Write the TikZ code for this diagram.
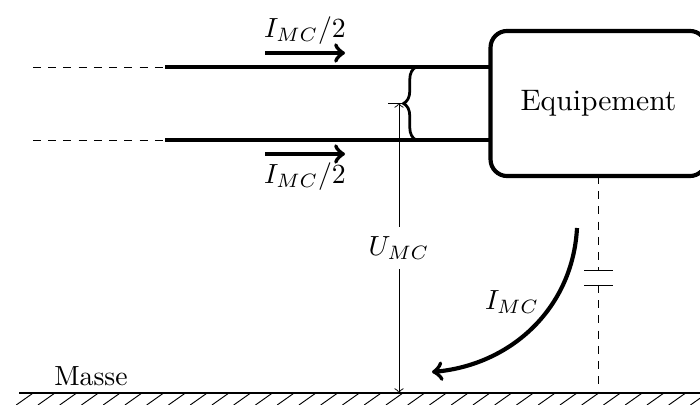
\documentclass[tikz,border=0pt]{standalone}
\usepackage{amsmath}
\usetikzlibrary{arrows}
\usetikzlibrary{positioning}
\usetikzlibrary{decorations.pathreplacing}

\tikzset{
  conductor/.style={line width=1.5pt},
  courant/.style={->,line width=1.5pt},
  liaison/.style={dash pattern=on 2.9pt off 2.6pt,line width=0.3pt},
  mince/.style={line width=0.34pt},
}

\begin{document}
\begin{tikzpicture}[x=0.3612pt,y=-0.3612pt]
    \useasboundingbox (0,0) rectangle (700,405);

    \node (equip) [draw, line width=1.5pt, rounded corners=6pt, inner sep=0pt,
      minimum width=78pt, minimum height=52.4pt,
      font=\fontsize{10.7}{13}\selectfont] at (598.5,103.5) {\raisebox{-.5pt}{Equipement}};

    \coordinate (h1) at (165,67);
    \coordinate (h2) at (165,140);
    \coordinate (h1a) at (33,67);
    \coordinate (h2a) at (33,140);
    \coordinate (h1b) at (490,67);
    \coordinate (h2b) at (490,140);

    \draw [liaison] (h1a) -- (h1);
    \draw [liaison] (h2a) -- (h2);
    \draw [conductor] (h1) -- (h1b);
    \draw [conductor] (h2) -- (h2b);

    \coordinate (c1a) at (265,53);
    \coordinate (c1b) at (345,53);
    \coordinate (c2a) at (265,154);
    \coordinate (c2b) at (345,154);
    \draw [courant] (c1a) -- node [above, yshift=-1pt] {$I_{MC}/2$} (c1b);
    \draw [courant] (c2a) -- node [below, yshift=1pt] {$I_{MC}/2$} (c2b);

    \coordinate (b1) at (416,67);
    \coordinate (b2) at (416,140);
    \draw [line width=1pt, decorate, decoration={brace,amplitude=4.5pt,mirror}] (b1) -- (b2);

    % masse
    \coordinate (m1) at (19,393);
    \coordinate (m2) at (700,393);
    \draw [line width=0.4pt] (m1) -- (m2);
    \foreach \x in {0,...,31}
      \draw [mince] (33.2+21.75*\x,393) -- ++(-17,12);
    \node (masse) at (91,376) {Masse};

    % tension
    \coordinate (u1) at (399,103);
    \coordinate (u2) at (399,393);
    \coordinate (t1) at (388,103);
    \coordinate (t2) at (406,103);
    \draw [mince] (t1) -- (t2);
    \draw [<->,mince] (u1) -- node [fill=white] {$U_{MC}$} (u2);

    % capacite
    \coordinate (k1) at (598,176);
    \coordinate (k2) at (598,270);
    \coordinate (k3) at (598,285);
    \coordinate (k4) at (598,393);
    \coordinate (p1) at (584,270);
    \coordinate (p2) at (613,270);
    \coordinate (p3) at (584,285);
    \coordinate (p4) at (613,285);
    \draw [liaison] (k1) -- (k2);
    \draw [liaison] (k3) -- (k4);
    \draw [mince] (p1) -- (p2);
    \draw [mince] (p3) -- (p4);

    % courant de mode commun
    \coordinate (i1) at (577,228);
    \coordinate (i2) at (432,372);
    \draw [courant] (i1) to [out=-93, in=5] (i2);
    \node (imc) at (512,302) {$I_{MC}$};
  \end{tikzpicture}
\end{document}
